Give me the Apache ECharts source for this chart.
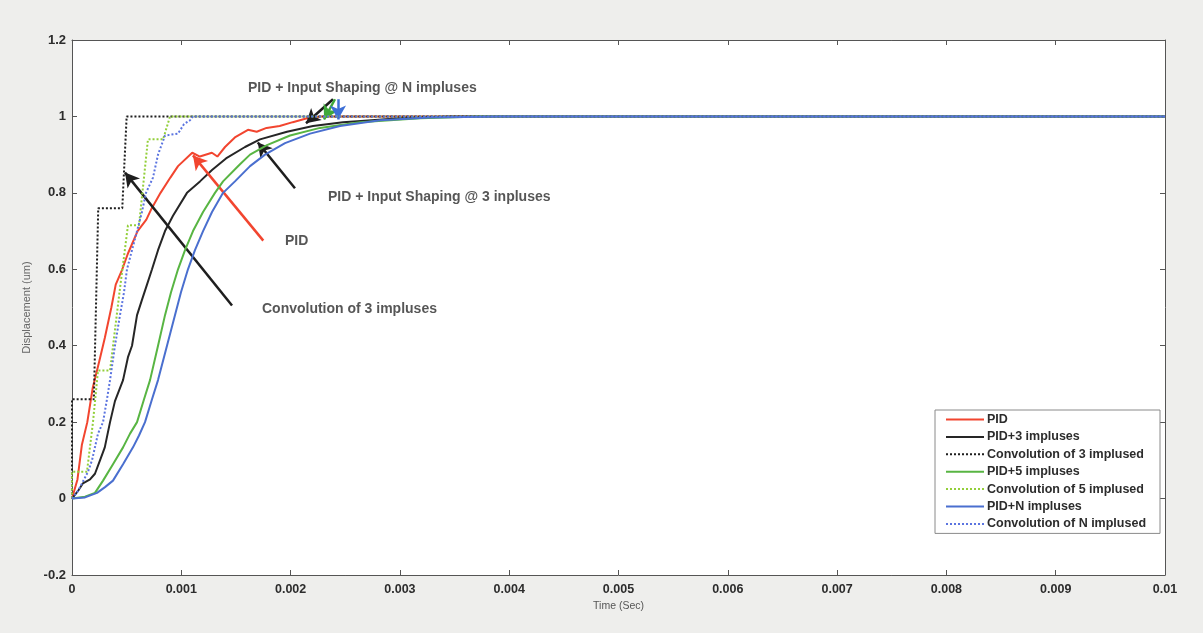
<!DOCTYPE html>
<html>
<head>
<meta charset="utf-8">
<script src="https://cdn.jsdelivr.net/npm/echarts@6/dist/echarts.min.js"></script>
<style>
html,body{margin:0;padding:0;background:#eeeeec;}
#c{width:1203px;height:633px;}
</style>
</head>
<body>
<div id="c"></div>
<script>
// ---------- DATA ----------
const xTickLabels = ['0','0.001','0.002','0.003','0.004','0.005','0.006','0.007','0.008','0.009','0.01'];
const yTickLabels = ['-0.2','0','0.2','0.4','0.6','0.8','1','1.2'];

const seriesNames = ['PID','PID+3 impluses','Convolution of 3 implused','PID+5 impluses','Convolution of 5 implused','PID+N impluses','Convolution of N implused'];

const pidT = [0,0.00005,0.00009,0.00014,0.00019,0.00025,0.0003,0.00036,0.0004,0.00046,0.00051,0.0006,0.00068,0.00073,0.00081,0.0009,0.00097,0.0011,0.00117,0.00128,0.00133,0.0014,0.00149,0.00161,0.00169,0.00178,0.0019,0.00202,0.00215,0.00227,0.003,0.01];
const pidY = [0,0.05,0.14,0.2,0.29,0.36,0.42,0.5,0.56,0.6,0.64,0.7,0.73,0.76,0.8,0.84,0.87,0.905,0.895,0.905,0.895,0.92,0.945,0.965,0.96,0.97,0.975,0.985,0.995,1.0,1.0,1.0];

const pid3T = [0,0.000055,0.0001,0.000165,0.00021,0.000256,0.0003,0.000348,0.000393,0.000467,0.000512,0.000549,0.000595,0.00064,0.000686,0.000732,0.000787,0.000851,0.000924,0.001052,0.001171,0.001281,0.001409,0.001583,0.00172,0.001967,0.002205,0.002479,0.003,0.00346,0.01];
const pid3Y = [0,0.02,0.04,0.05,0.065,0.1,0.134,0.2,0.255,0.31,0.37,0.4,0.48,0.52,0.56,0.6,0.65,0.7,0.74,0.8,0.83,0.86,0.89,0.92,0.94,0.96,0.975,0.985,0.995,1.0,1.0];

const conv3T = [0,0,0.0002,0.00024,0.00046,0.0005,0.01];
const conv3Y = [0,0.26,0.26,0.76,0.76,1.0,1.0];

const pid5T = [0,0.000119,0.00021,0.000284,0.000375,0.000467,0.000531,0.000595,0.000659,0.000714,0.000787,0.000851,0.000906,0.00097,0.001034,0.001107,0.001199,0.001308,0.001382,0.001537,0.001629,0.001784,0.001995,0.002269,0.002635,0.003184,0.003733,0.01];
const pid5Y = [0,0.005,0.015,0.047,0.09,0.134,0.17,0.2,0.26,0.31,0.4,0.48,0.54,0.6,0.65,0.7,0.75,0.8,0.83,0.875,0.9,0.925,0.95,0.97,0.985,0.995,1.0,1.0];

const conv5T = [0,0,0.000137,0.000192,0.000238,0.000348,0.000439,0.000512,0.000613,0.000695,0.000833,0.000897,0.01];
const conv5Y = [0,0.07,0.07,0.2,0.335,0.335,0.55,0.715,0.715,0.94,0.94,1.0,1.0];

const pidNT = [0,0.000119,0.000229,0.000302,0.000375,0.000467,0.000558,0.000613,0.000668,0.000732,0.000787,0.000869,0.000942,0.000997,0.001061,0.001125,0.001199,0.001281,0.001382,0.001491,0.001629,0.001766,0.001949,0.002178,0.002452,0.002818,0.003275,0.003916,0.01];
const pidNY = [0,0.003,0.015,0.03,0.047,0.09,0.134,0.165,0.2,0.26,0.31,0.4,0.48,0.54,0.6,0.65,0.7,0.75,0.8,0.83,0.87,0.9,0.93,0.955,0.975,0.99,0.997,1.0,1.0];

const convNT = [0,0.000055,0.00011,0.000146,0.000183,0.000238,0.000284,0.00032,0.000348,0.000393,0.000439,0.000476,0.000503,0.000549,0.000595,0.00064,0.000677,0.000741,0.000787,0.000851,0.00097,0.001025,0.00108,0.001107,0.01];
const convNY = [0,0.02,0.05,0.07,0.1,0.17,0.2,0.26,0.31,0.4,0.48,0.54,0.6,0.65,0.7,0.75,0.8,0.84,0.9,0.95,0.955,0.98,0.99,1.0,1.0];

// annotation texts and arrows (in data units)
const annTexts = [
  {text:'PID + Input Shaping @ N impluses', at:[0.00161,1.073]},
  {text:'PID + Input Shaping @ 3 inpluses', at:[0.002342,0.788]},
  {text:'PID', at:[0.001949,0.673]},
  {text:'Convolution of 3 impluses', at:[0.001738,0.495]}
];
const annArrows = [
  {from:[0.002388,1.045], to:[0.002141,0.982], color:'#1e1e1e'},
  {from:[0.002406,1.045], to:[0.002306,0.992], color:'#3fa93a'},
  {from:[0.002434,1.045], to:[0.002434,0.992], color:'#3d6fd6'},
  {from:[0.00204,0.812],  to:[0.0017,0.932],   color:'#1e1e1e'},
  {from:[0.00175,0.675],  to:[0.001107,0.898], color:'#f2452f'},
  {from:[0.001464,0.505], to:[0.000485,0.853], color:'#1e1e1e'}
];

// ---------- CHART ----------
const FONT = '"Liberation Sans", Arial, sans-serif';
const zip = (T, Y) => T.map((t, i) => [t, Y[i]]);
const xFmt = v => xTickLabels[Math.round(v / 0.001)] || '';
const yFmt = v => yTickLabels[Math.round((v + 0.2) / 0.2)] || '';

function lineSeries(name, T, Y, color, dotted, z) {
  return {
    name, type: 'line', data: zip(T, Y), symbol: 'none', showSymbol: false,
    smooth: false, z: z, animation: false,
    lineStyle: {color, width: 2, type: dotted ? [2, 2] : 'solid'},
    itemStyle: {color}
  };
}

function axisCommon() {
  return {
    axisLine: {show: true, onZero: false, lineStyle: {color: '#555', width: 1}},
    axisTick: {show: true, inside: true, length: 5, lineStyle: {color: '#555'}},
    splitLine: {show: false}
  };
}

const chart = echarts.init(document.getElementById('c'), null, {renderer: 'canvas', width: 1203, height: 633});
chart.setOption({
  animation: false,
  backgroundColor: '#eeeeec',
  grid: {left: 72, right: 38, top: 40, bottom: 58, show: true, backgroundColor: '#ffffff', borderWidth: 0},
  xAxis: [
    Object.assign({type: 'value', min: 0, max: 0.01, interval: 0.001, position: 'bottom',
      name: 'Time (Sec)', nameLocation: 'middle', nameGap: 26,
      nameTextStyle: {fontFamily: FONT, fontSize: 10.5, color: '#555'},
      axisLabel: {formatter: xFmt, fontFamily: FONT, fontSize: 12.5, fontWeight: 'bold', color: '#2c2c2c', margin: 8}}, axisCommon()),
    Object.assign({type: 'value', min: 0, max: 0.01, interval: 0.001, position: 'top',
      axisLabel: {show: false}}, axisCommon())
  ],
  yAxis: [
    Object.assign({type: 'value', min: -0.2, max: 1.2, interval: 0.2, position: 'left',
      name: 'Displacement (um)', nameLocation: 'middle', nameGap: 31, nameRotate: 90,
      nameTextStyle: {fontFamily: FONT, fontSize: 11, color: '#666'},
      axisLabel: {formatter: yFmt, fontFamily: FONT, fontSize: 13, fontWeight: 'bold', color: '#2c2c2c', margin: 6}}, axisCommon()),
    Object.assign({type: 'value', min: -0.2, max: 1.2, interval: 0.2, position: 'right',
      axisLabel: {show: false}}, axisCommon())
  ],
  legend: {
    data: seriesNames,
    orient: 'vertical', left: 935, top: 410,
    padding: [3, 14, 3, 10], itemWidth: 38, itemHeight: 14, itemGap: 4.4,
    itemStyle: {opacity: 0},
    backgroundColor: '#ffffff', borderColor: '#8a8a8a', borderWidth: 1, borderRadius: 0,
    textStyle: {fontFamily: FONT, fontSize: 12.5, fontWeight: 'bold', color: '#2c2c2c', padding: [0, 0, 0, -2]}
  },
  series: [
    lineSeries(seriesNames[0], pidT, pidY, '#f2452f', false, 2),
    lineSeries(seriesNames[1], pid3T, pid3Y, '#262626', false, 3),
    lineSeries(seriesNames[2], conv3T, conv3Y, '#1e1e1e', true, 4),
    lineSeries(seriesNames[3], pid5T, pid5Y, '#58b543', false, 5),
    lineSeries(seriesNames[4], conv5T, conv5Y, '#93cf3a', true, 6),
    lineSeries(seriesNames[5], pidNT, pidNY, '#4a6fcf', false, 7),
    lineSeries(seriesNames[6], convNT, convNY, '#5b74e0', true, 8),
    {
      name: 'annotations', type: 'scatter', z: 10, animation: false, silent: true,
      symbolSize: 0,
      data: annTexts.map(a => ({value: a.at, label: {formatter: a.text}})),
      label: {show: true, position: 'right', distance: 0, fontFamily: FONT, fontSize: 14, fontWeight: 'bold', color: '#2c2c2c'},
      markLine: {
        silent: true, animation: false, symbolSize: [12, 14], precision: 8,
        label: {show: false},
        data: annArrows.map(a => [
          {coord: a.from, symbol: 'none', lineStyle: {color: a.color, width: 2.5, type: 'solid'}},
          {coord: a.to, symbol: 'arrow'}
        ])
      }
    }
  ]
});
</script>
</body>
</html>
